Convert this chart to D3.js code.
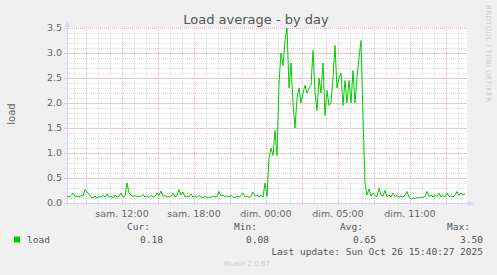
<!DOCTYPE html>
<html>
<head>
<meta charset="utf-8">
<script src="https://cdn.jsdelivr.net/npm/d3@7"></script>
<style>
  html, body { margin: 0; padding: 0; background: #f0f0f0; }
  svg { display: block; }
  text { font-family: "DejaVu Sans", sans-serif; fill: #666; }
  .mono { font-family: "DejaVu Sans Mono", monospace; fill: #555; }
</style>
</head>
<body>
<div id="chart"></div>
<script>
// samples every 10 minutes, first one at sam. 07:25 (hours counted from sam. 00:00)
var startHour = 7 + 25 / 60;
var stepHours = 1 / 6;

var load = [
  0.13, 0.12, 0.15, 0.2, 0.13, 0.14, 0.12, 0.15, 0.14, 0.27,
  0.22, 0.18, 0.12, 0.1, 0.14, 0.1, 0.13, 0.12, 0.15, 0.12,
  0.18, 0.12, 0.14, 0.1, 0.16, 0.12, 0.13, 0.2, 0.12, 0.14,
  0.4, 0.2, 0.16, 0.13, 0.15, 0.12, 0.14, 0.13, 0.17, 0.12,
  0.14, 0.11, 0.15, 0.12, 0.13, 0.2, 0.15, 0.24, 0.13, 0.15,
  0.12, 0.14, 0.13, 0.2, 0.12, 0.15, 0.27, 0.16, 0.22, 0.12,
  0.14, 0.12, 0.18, 0.12, 0.14, 0.11, 0.15, 0.12, 0.1, 0.14,
  0.1, 0.12, 0.11, 0.14, 0.12, 0.13, 0.23, 0.14, 0.16, 0.12,
  0.14, 0.12, 0.15, 0.12, 0.11, 0.14, 0.12, 0.15, 0.2, 0.12,
  0.14, 0.11, 0.13, 0.22, 0.14, 0.16, 0.12, 0.15, 0.12, 0.4,
  0.13, 0.9, 1.1, 0.95, 1.45, 0.95, 2.4, 3.0, 2.75, 3.25,
  3.5, 2.3, 2.8, 2.0, 1.5, 2.1, 2.3, 2.0, 2.2, 2.35,
  2.2, 2.3, 2.35, 3.05, 2.2, 1.85, 2.5, 2.2, 2.8, 1.75,
  2.25, 1.95, 2.0, 2.5, 3.15, 2.3, 2.5, 2.6, 1.95, 2.45,
  2.0, 2.45, 2.0, 2.65, 2.0, 2.5, 2.9, 3.25, 1.7, 0.4,
  0.16, 0.28, 0.14, 0.2, 0.15, 0.13, 0.3, 0.16, 0.14, 0.25,
  0.13, 0.16, 0.12, 0.2, 0.13, 0.15, 0.12, 0.14, 0.12, 0.16,
  0.23, 0.12, 0.08, 0.1, 0.09, 0.11, 0.1, 0.12, 0.11, 0.14,
  0.23, 0.13, 0.16, 0.12, 0.15, 0.13, 0.2, 0.12, 0.15, 0.12,
  0.2, 0.13, 0.14, 0.12, 0.16, 0.23, 0.15, 0.2, 0.16, 0.18
];

var tickHours = [12, 18, 24, 30, 36];
var tickLabels = ["sam. 12:00", "sam. 18:00", "dim. 00:00", "dim. 05:00", "dim. 11:00"];
var yTicks = [0, 0.5, 1, 1.5, 2, 2.5, 3, 3.5];

var legendHeads = ["Cur:", "Min:", "Avg:", "Max:"];
var legendValues = ["0.18", "0.08", "0.65", "3.50"];

var svgWidth = 497;
var svgHeight = 275;
var margin = { top: 28, left: 67 };
var chartWidth = 400;
var chartHeight = 175;

var svg = d3.select("#chart").append("svg").attr("width", svgWidth).attr("height", svgHeight);
svg.append("rect").attr("width", svgWidth).attr("height", svgHeight).attr("fill", "#f0f0f0");

var chartGroup = svg.append("g").attr("transform", `translate(${margin.left}, ${margin.top})`);
chartGroup.append("rect").attr("width", chartWidth).attr("height", chartHeight).attr("fill", "#fff");

var xScale = d3.scaleLinear().domain([startHour, startHour + 200 * stepHours]).range([0, chartWidth]);
var yScale = d3.scaleLinear().domain([0, 3.5]).range([chartHeight, 0]);

// grid: minor first, major on top
var minorX = d3.range(8, 41, 1);
var majorX = d3.range(9, 41, 3);
var minorY = d3.range(1, 35).map(d => d / 10);

function vLines(values, color, len) {
  chartGroup.append("g").selectAll("line").data(values).enter()
    .append("line")
    .attr("x1", d => Math.round(xScale(d)) + 0.5)
    .attr("x2", d => Math.round(xScale(d)) + 0.5)
    .attr("y1", 0)
    .attr("y2", chartHeight + len)
    .attr("stroke", color)
    .attr("stroke-dasharray", "1,1")
    .attr("shape-rendering", "crispEdges");
}
function hLines(values, color, len) {
  chartGroup.append("g").selectAll("line").data(values).enter()
    .append("line")
    .attr("x1", -len)
    .attr("x2", chartWidth)
    .attr("y1", d => Math.round(yScale(d)) + 0.5)
    .attr("y2", d => Math.round(yScale(d)) + 0.5)
    .attr("stroke", color)
    .attr("stroke-dasharray", "1,1")
    .attr("shape-rendering", "crispEdges");
}
vLines(minorX, "#dedede", 2);
hLines(minorY, "#dedede", 2);
vLines(majorX, "#efb9b9", 3);
hLines(yTicks.slice(1), "#efb9b9", 3);

// axes
chartGroup.append("line")
  .attr("x1", 0.5).attr("x2", 0.5).attr("y1", -2).attr("y2", chartHeight + 3)
  .attr("stroke", "#cfd6f8").attr("shape-rendering", "crispEdges");
chartGroup.append("line")
  .attr("x1", -3).attr("x2", chartWidth + 2).attr("y1", chartHeight + 0.5).attr("y2", chartHeight + 0.5)
  .attr("stroke", "#cfd6f8").attr("shape-rendering", "crispEdges");
chartGroup.append("path")
  .attr("d", "M-2.5,-1 L3.5,-1 L0.5,-7 Z").attr("fill", "#cfd6f8");
chartGroup.append("path")
  .attr("d", `M${chartWidth + 1},${chartHeight - 2.5} L${chartWidth + 1},${chartHeight + 3.5} L${chartWidth + 7},${chartHeight + 0.5} Z`)
  .attr("fill", "#cfd6f8");

// the load line
var line = d3.line()
  .x((d, i) => xScale(startHour + i * stepHours))
  .y(d => yScale(d));

chartGroup.append("path")
  .datum(load)
  .attr("d", line)
  .attr("fill", "none")
  .attr("stroke", "#00cc00")
  .attr("stroke-width", 1);

// tick labels
chartGroup.append("g").selectAll("text").data(yTicks).enter()
  .append("text")
  .attr("x", -5)
  .attr("y", d => yScale(d))
  .attr("dy", "0.35em")
  .attr("text-anchor", "end")
  .style("font-size", "9.5px")
  .text(d => d.toFixed(1));

chartGroup.append("g").selectAll("text").data(tickHours).enter()
  .append("text")
  .attr("x", d => xScale(d))
  .attr("y", chartHeight + 13.5)
  .attr("text-anchor", "middle")
  .style("font-size", "9.5px")
  .text((d, i) => tickLabels[i]);

// titles
svg.append("text")
  .attr("x", 256).attr("y", 24)
  .attr("text-anchor", "middle")
  .style("font-size", "13px")
  .style("fill", "#555")
  .text("Load average - by day");

svg.append("text")
  .attr("transform", "translate(15, 114) rotate(-90)")
  .attr("text-anchor", "middle")
  .style("font-size", "10px")
  .text("load");

svg.append("text")
  .attr("transform", "translate(486, 5) rotate(90)")
  .attr("textLength", 97)
  .style("font-size", "7px")
  .style("fill", "#cccccc")
  .text("RRDTOOL / TOBI OETIKER");

// legend
svg.append("rect").attr("x", 14).attr("y", 236.5).attr("width", 6).attr("height", 6).attr("fill", "#00cc00");
svg.append("text").attr("class", "mono").attr("x", 27).attr("y", 243).style("font-size", "9.5px").text("load");

var headRight = [150, 257, 363, 470];
var valueRight = [163, 269, 376, 483];
svg.append("g").selectAll("text").data(legendHeads).enter()
  .append("text")
  .attr("class", "mono")
  .attr("x", (d, i) => headRight[i])
  .attr("y", 230)
  .attr("text-anchor", "end")
  .style("font-size", "9.5px")
  .text(d => d);
svg.append("g").selectAll("text").data(legendValues).enter()
  .append("text")
  .attr("class", "mono")
  .attr("x", (d, i) => valueRight[i])
  .attr("y", 243)
  .attr("text-anchor", "end")
  .style("font-size", "9.5px")
  .text(d => d);

svg.append("text")
  .attr("class", "mono")
  .attr("x", 483).attr("y", 255)
  .attr("text-anchor", "end")
  .style("font-size", "9.5px")
  .text("Last update: Sun Oct 26 15:40:27 2025");

svg.append("text")
  .attr("x", 247).attr("y", 266)
  .attr("text-anchor", "middle")
  .style("font-size", "7px")
  .style("fill", "#cccccc")
  .text("Munin 2.0.67");
</script>
</body>
</html>
